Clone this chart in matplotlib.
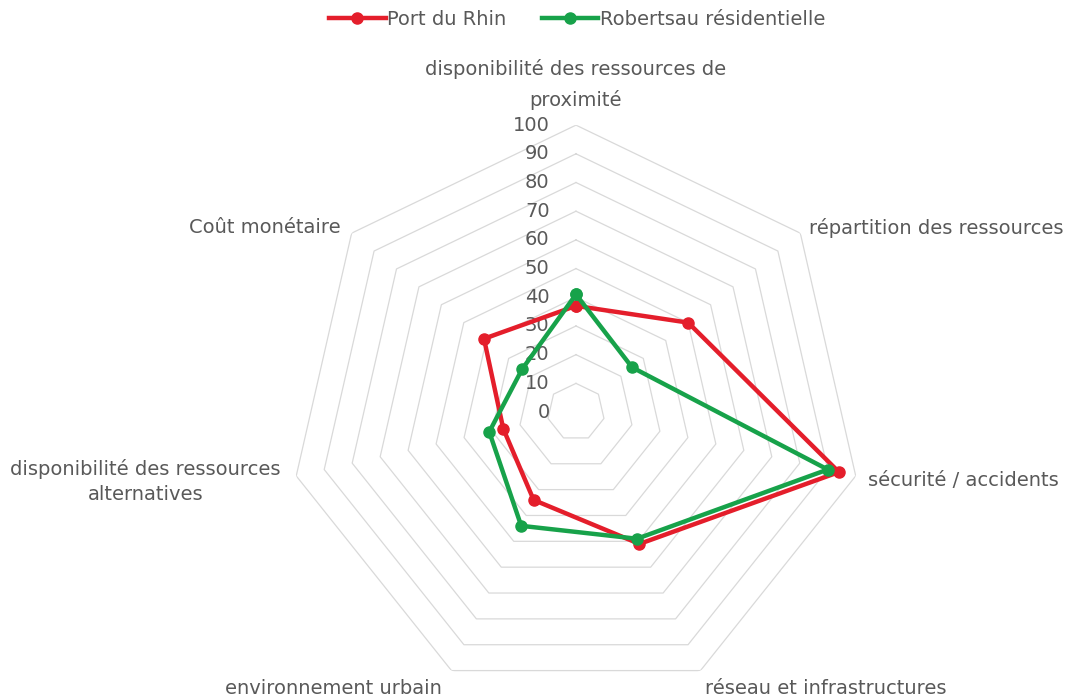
import numpy as np
import matplotlib.pyplot as plt

# Radar chart: mobility criteria, two Strasbourg neighbourhoods
categories = [
    "disponibilité des ressources de\nproximité",
    "répartition des ressources",
    "sécurité / accidents",
    "réseau et infrastructures",
    "environnement urbain",
    "disponibilité des ressources\nalternatives",
    "Coût monétaire",
]
port_du_rhin = [37, 50, 94, 51, 34, 26, 41]
robertsau = [41, 25, 90, 49, 44, 31, 24]
ring_values = list(range(10, 101, 10))
tick_values = list(range(0, 101, 10))

red = "#E41E2B"
green = "#17A24A"
grid_color = "#D9D9D9"
text_color = "#595959"
fs = 14

plt.rcParams["font.family"] = ["DejaVu Sans"]

n = len(categories)
angles = np.linspace(0, 2 * np.pi, n, endpoint=False)
closed = np.append(angles, angles[0])

fig = plt.figure(figsize=(10.69, 6.99), dpi=100)
ax = fig.add_axes([0.2703, 0.0, 0.537, 0.821], projection="polar")
ax.set_theta_offset(np.pi / 2)
ax.set_theta_direction(-1)
ax.set_ylim(0, 100)
ax.grid(False)
ax.spines["polar"].set_visible(False)
ax.set_xticks([])
ax.set_yticks([])
ax.patch.set_alpha(0)

# heptagon rings
for v in ring_values:
    ax.plot(closed, [v] * (n + 1), color=grid_color, lw=0.9, zorder=1)

# radial value labels along the top axis
for v in tick_values:
    ax.annotate(str(v), xy=(0, v), xytext=(-19, 0), textcoords="offset points",
                ha="right", va="center", fontsize=fs, color=text_color)

# category labels just outside each vertex
label_style = [
    dict(xytext=(0, 11), ha="center", va="bottom", linespacing=1.65),
    dict(xytext=(6, 4), ha="left", va="center"),
    dict(xytext=(9, -3), ha="left", va="center"),
    dict(xytext=(3, -6), ha="left", va="top"),
    dict(xytext=(-7, -6), ha="right", va="top"),
    dict(xytext=(-11, -4), ha="right", va="center", linespacing=1.45),
    dict(xytext=(-8, 4), ha="right", va="center"),
]
for ang, lab, st in zip(angles, categories, label_style):
    ax.annotate(lab, xy=(ang, 100), textcoords="offset points", fontsize=fs,
                color=text_color, multialignment="center", **st)

ax.plot(closed, port_du_rhin + port_du_rhin[:1], color=red, lw=3.2, marker="o",
        ms=8, label="Port du Rhin", zorder=3)
ax.plot(closed, robertsau + robertsau[:1], color=green, lw=3.2, marker="o",
        ms=8, label="Robertsau résidentielle", zorder=4)

fig.legend(loc="center", bbox_to_anchor=(0.54, 0.972), ncol=2, frameon=False,
           fontsize=fs, handlelength=2.9, handletextpad=0.1, columnspacing=1.8,
           labelcolor=text_color)

fig.savefig("out.png", dpi=100)
